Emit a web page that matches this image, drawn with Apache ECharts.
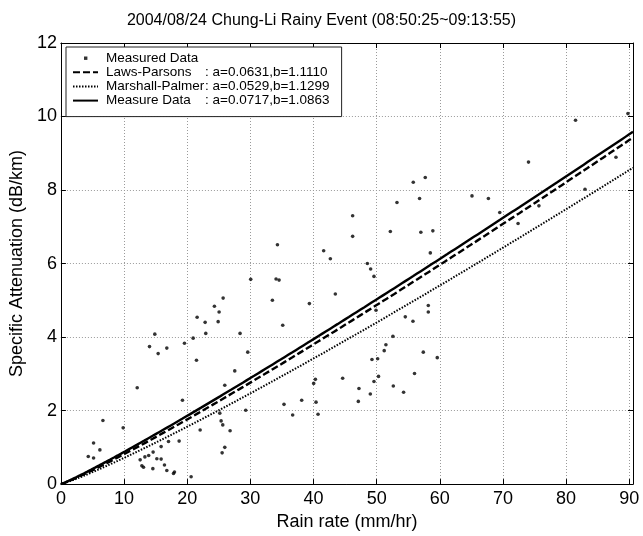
<!DOCTYPE html>
<html>
<head>
<meta charset="utf-8">
<script src="https://cdn.jsdelivr.net/npm/echarts@6/dist/echarts.min.js"></script>
<style>
  html, body { margin: 0; padding: 0; background: #ffffff; }
  #chart { width: 643px; height: 536px; }
</style>
</head>
<body>
<div id="chart"></div>
<script>
// Measured rain rate (mm/hr) and specific attenuation (dB/km) pairs
const rainRate = [
  4.33, 5.17, 5.17, 6.17, 6.65, 9.86, 12.08, 12.55, 12.82, 13.08, 13.3, 13.9, 14.03, 14.56,
  14.6, 14.87, 15.19, 15.40, 15.87, 15.87, 16.40, 16.77, 16.77, 17.04, 17.83, 17.98, 18.72, 19.25,
  19.57, 20.62, 20.94, 21.47, 21.57, 22.05, 22.84, 22.94, 24.31, 24.90, 25.05, 25.69, 25.16, 25.37,
  25.63, 25.53, 25.95, 25.95, 26.79, 27.53, 28.37,
  34.29, 30.06, 34.07, 34.55, 33.49, 39.35, 41.61, 42.67, 46.2, 46.2, 43.46, 48.53, 49.05, 49.58,
  52.17, 53.22,
  57.0, 58.9, 58.5, 35.13, 29.59, 49.9, 54.54, 55.75, 58.18, 58.18, 52.58, 51.47, 51.2, 57.39, 59.6,
  49.26, 50.16, 56.0, 50.3, 49.58, 44.62, 40.3, 40.03, 47.2, 52.64, 54.27, 49.0, 47.1, 40.4, 38.13,
  35.33, 36.7, 40.72, 29.27,
  55.8, 57.7, 56.8, 65.1, 67.7, 74.05, 69.5, 75.7, 72.4,
  81.5, 89.8, 87.9, 83.0
];
const attenuation = [
  0.75, 1.12, 0.71, 0.93, 1.73, 1.53, 2.62, 0.66, 0.50, 0.46, 0.74, 0.78, 3.74, 0.42,
  0.87, 4.08, 0.69, 3.55, 0.68, 1.02, 0.52, 3.70, 0.37, 1.16, 0.29, 0.33, 1.17, 2.28,
  3.83, 0.20, 3.97, 3.37, 4.54, 1.47, 4.40, 4.10, 4.84, 4.42, 4.68, 5.06, 1.93, 1.72,
  1.61, 0.85, 1.00, 2.69, 1.45, 3.08, 4.10,
  6.51, 5.57, 5.58, 5.55, 5.00, 4.91, 6.35, 6.13, 7.30, 6.74, 5.17, 6.00, 5.85, 5.65,
  6.87, 7.66,
  6.85, 6.89, 6.29, 4.32, 3.59, 4.73, 4.55, 4.43, 4.86, 4.68, 4.02, 3.79, 3.63, 3.59, 3.44,
  3.39, 3.41, 3.01, 2.93, 2.79, 2.88, 2.85, 2.74, 2.60, 2.67, 2.50, 2.45, 2.25, 2.23, 2.28,
  2.17, 1.88, 1.90, 2.01,
  8.21, 8.34, 7.77, 7.84, 7.77, 8.76, 7.39, 7.57, 7.09,
  9.90, 10.08, 8.89, 8.02
];

// Power-law fits A = a * R^b
const fitNames = ['Laws-Parsons', 'Marshall-Palmer', 'Measure Data'];
const fitA = [0.0631, 0.0529, 0.0717];
const fitB = [1.1110, 1.1299, 1.0863];

const xTickValues = [0, 10, 20, 30, 40, 50, 60, 70, 80, 90];
const yTickValues = [0, 2, 4, 6, 8, 10, 12];

const X_MAX = 90.6;
const FONT = '"Liberation Sans", Arial, Helvetica, sans-serif';

const scatterData = rainRate.map((r, i) => [r, attenuation[i]]);

function fitCurve(k) {
  const pts = [];
  for (let r = 0; r <= X_MAX + 1e-9; r += 0.3) {
    pts.push([r, fitA[k] * Math.pow(r, fitB[k])]);
  }
  pts.push([X_MAX, fitA[k] * Math.pow(X_MAX, fitB[k])]);
  return pts;
}

const fitLineStyles = [
  { color: '#000', width: 2.4, type: [7, 3] },
  { color: '#000', width: 2, type: [1.5, 1.5] },
  { color: '#000', width: 2.4, type: 'solid' }
];

const legendParams = {
  'Measured Data': '',
  'Laws-Parsons': ': a=' + fitA[0].toFixed(4) + ',b=' + fitB[0].toFixed(4),
  'Marshall-Palmer': ': a=' + fitA[1].toFixed(4) + ',b=' + fitB[1].toFixed(4),
  'Measure Data': ': a=' + fitA[2].toFixed(4) + ',b=' + fitB[2].toFixed(4)
};

const isXTick = v => xTickValues.some(t => Math.abs(t - v) < 1e-6);
const isYTick = v => yTickValues.some(t => Math.abs(t - v) < 1e-6);

const axisCommon = {
  axisLine: { show: true, onZero: false, lineStyle: { color: '#000', width: 1 } },
  axisTick: { show: true, inside: true, length: 5, lineStyle: { color: '#000', width: 1 } }
};

// legend entries for the fitted lines: line only, no marker
const hiddenMarker = { color: 'rgba(0,0,0,0)', borderWidth: 0, opacity: 0 };

const chart = echarts.init(document.getElementById('chart'), null, { renderer: 'canvas' });

chart.setOption({
  backgroundColor: '#ffffff',
  animation: false,
  title: {
    text: '2004/08/24 Chung-Li Rainy Event (08:50:25~09:13:55)',
    left: 'center',
    top: 8,
    textStyle: { fontFamily: FONT, fontSize: 16, fontWeight: 'normal', color: '#000' }
  },
  grid: { left: 59, right: 10, top: 43, bottom: 43, containLabel: false },
  legend: {
    orient: 'vertical',
    left: 66,
    top: 47,
    padding: [4, 12, 9, 6],
    itemWidth: 25,
    itemHeight: 13,
    itemGap: 0.2,
    backgroundColor: '#ffffff',
    borderColor: '#222',
    borderWidth: 1,
    borderRadius: 0,
    selectedMode: false,
    data: [
      { name: 'Measured Data', icon: 'path://M0,0M25,0M0,13M25,13M11,5h3.4v3.4h-3.4z' },
      { name: fitNames[0], itemStyle: hiddenMarker },
      { name: fitNames[1], itemStyle: hiddenMarker },
      { name: fitNames[2], itemStyle: hiddenMarker }
    ],
    formatter: name => '{n|' + name + '}{p|' + legendParams[name] + '}',
    textStyle: {
      fontFamily: FONT,
      fontSize: 13.5,
      color: '#000',
      rich: {
        n: { fontFamily: FONT, fontSize: 13.5, color: '#000', width: 99, padding: [0, 0, 0, 3] },
        p: { fontFamily: FONT, fontSize: 13.5, color: '#000' }
      }
    }
  },
  xAxis: [
    Object.assign({}, axisCommon, {
      type: 'value',
      position: 'bottom',
      min: 0,
      max: X_MAX,
      interval: 10,
      name: 'Rain rate (mm/hr)',
      nameLocation: 'middle',
      nameGap: 22,
      nameTextStyle: { fontFamily: FONT, fontSize: 18, color: '#000' },
      axisLabel: {
        show: true,
        margin: 6,
        fontFamily: FONT,
        fontSize: 18,
        color: '#000',
        formatter: v => (isXTick(v) ? String(v) : '')
      },
      splitLine: { show: true, lineStyle: { color: '#9a9a9a', width: 1, type: [1, 2] } }
    }),
    Object.assign({}, axisCommon, {
      type: 'value',
      position: 'top',
      min: 0,
      max: X_MAX,
      interval: 10,
      axisLabel: { show: false },
      splitLine: { show: false }
    })
  ],
  yAxis: [
    Object.assign({}, axisCommon, {
      type: 'value',
      position: 'left',
      min: 0,
      max: 12,
      interval: 2,
      name: 'Specific Attenuation (dB/km)',
      nameLocation: 'middle',
      nameGap: 30,
      nameTextStyle: { fontFamily: FONT, fontSize: 18, color: '#000' },
      axisLabel: {
        show: true,
        margin: 4,
        fontFamily: FONT,
        fontSize: 18,
        color: '#000',
        formatter: v => (isYTick(v) ? String(v) : '')
      },
      splitLine: { show: true, lineStyle: { color: '#9a9a9a', width: 1, type: [1, 2] } }
    }),
    Object.assign({}, axisCommon, {
      type: 'value',
      position: 'right',
      min: 0,
      max: 12,
      interval: 2,
      axisLabel: { show: false },
      splitLine: { show: false }
    })
  ],
  series: [
    {
      name: 'Measured Data',
      type: 'scatter',
      xAxisIndex: 0,
      yAxisIndex: 0,
      symbol: 'circle',
      symbolSize: 3.6,
      itemStyle: { color: '#000' },
      data: scatterData,
      z: 2
    }
  ].concat(fitNames.map((nm, k) => ({
    name: nm,
    type: 'line',
    xAxisIndex: 0,
    yAxisIndex: 0,
    showSymbol: false,
    symbol: 'none',
    smooth: false,
    lineStyle: fitLineStyles[k],
    itemStyle: { color: '#000' },
    data: fitCurve(k),
    z: 3 + k
  })))
});
</script>
</body>
</html>
